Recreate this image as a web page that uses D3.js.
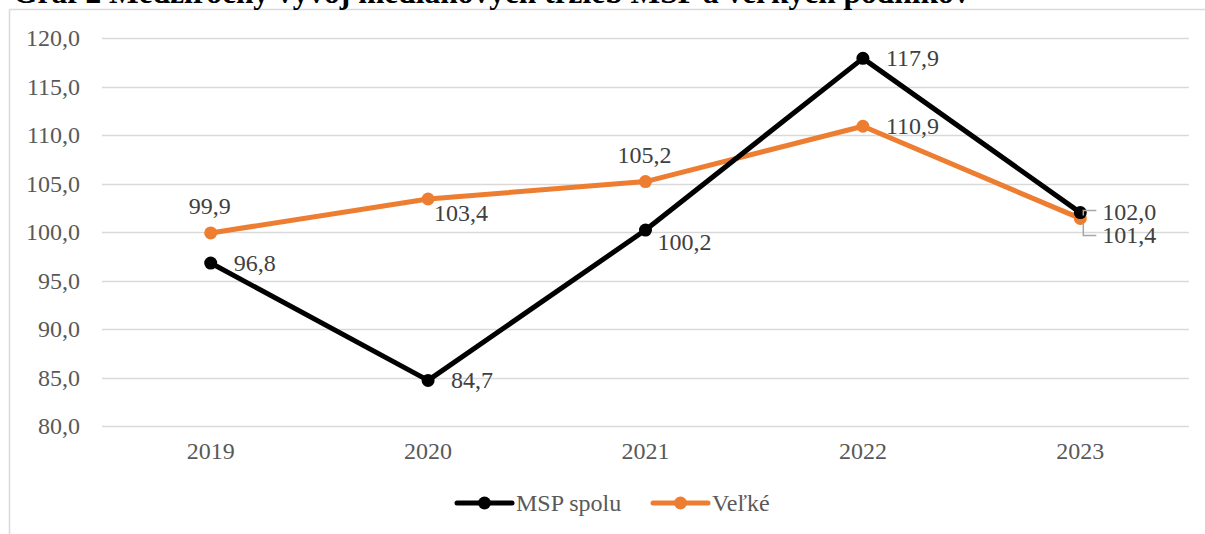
<!DOCTYPE html>
<html>
<head>
<meta charset="utf-8">
<script src="https://cdn.jsdelivr.net/npm/d3@7"></script>
<style>
  html, body { margin: 0; padding: 0; background: #fff; overflow: hidden; }
  svg text { font-family: 'Liberation Serif', 'Times New Roman', serif !important; }
</style>
</head>
<body>
<svg id="chart" width="1205" height="534"></svg>
<script>
const titleText = "Graf 2 Medziročný vývoj mediánových tržieb MSP a veľkých podnikov";
const categories = ["2019", "2020", "2021", "2022", "2023"];
const mspValues = [96.8, 84.7, 100.2, 117.9, 102.0];
const velkeValues = [99.9, 103.4, 105.2, 110.9, 101.4];
const seriesNames = ["MSP spolu", "Veľké"];
const yTicks = [80, 85, 90, 95, 100, 105, 110, 115, 120];
const mspLabelPos = ["right", "right", "right-below", "right", "leader-up"];
const velkeLabelPos = ["above", "below-right", "above", "right", "leader-down"];

const FONT = "'Liberation Serif', 'Times New Roman', serif";
const FS = 24;
const svg = d3.select("#chart");
const W = 1205, H = 534;
const margin = { left: 102, right: 16, top: 38, bottom: 108 };

// frame
svg.append("line").attr("x1", 9.5).attr("x2", W + 5).attr("y1", 9.5).attr("y2", 9.5)
  .attr("stroke", "#d9d9d9").attr("stroke-width", 1.5);
svg.append("line").attr("x1", 9.5).attr("x2", 9.5).attr("y1", 9.5).attr("y2", H + 5)
  .attr("stroke", "#d9d9d9").attr("stroke-width", 1.5);

// title (cut off at top, as in the reference)
const title = svg.append("text").attr("x", 13).attr("y", 3)
  .style("font-family", FONT)
  .attr("font-weight", "bold").attr("font-size", 26).attr("fill", "#000").text(titleText);
const tl = title.node().getComputedTextLength();
title.attr("font-size", 26 * 957 / tl);

const x = d3.scaleBand().domain(categories).range([margin.left, W - margin.right]);
const y = d3.scaleLinear().domain([80, 120]).range([H - margin.bottom, margin.top]);
const cx = d => x(d) + x.bandwidth() / 2;

// gridlines
svg.append("g").selectAll("line").data(yTicks).join("line")
  .attr("x1", margin.left).attr("x2", W - margin.right)
  .attr("y1", d => Math.round(y(d)) + 0.5).attr("y2", d => Math.round(y(d)) + 0.5)
  .attr("stroke", "#d9d9d9").attr("stroke-width", 1.5);

// y axis labels
const fmt = v => d3.format(".1f")(v).replace(".", ",");
const yAxis = d3.axisLeft(y).tickValues(yTicks).tickFormat(fmt).tickSize(0).tickPadding(22);
const gy = svg.append("g").attr("transform", `translate(${margin.left},0)`).call(yAxis);
gy.attr("font-family", null);
gy.select(".domain").remove();
gy.selectAll("text").attr("font-size", FS).attr("fill", "#595959").style("font-family", FONT);

// x axis labels
const xAxis = d3.axisBottom(x).tickSize(0).tickPadding(16);
const gx = svg.append("g").attr("transform", `translate(0,${H - margin.bottom})`).call(xAxis);
gx.attr("font-family", null);
gx.select(".domain").remove();
gx.selectAll("text").attr("font-size", FS).attr("fill", "#595959").style("font-family", FONT);

const line = d3.line().x((d, i) => cx(categories[i])).y(d => y(d));

function drawSeries(values, color) {
  svg.append("path").datum(values).attr("d", line)
    .attr("fill", "none").attr("stroke", color).attr("stroke-width", 5)
    .attr("stroke-linejoin", "round").attr("stroke-linecap", "round");
  svg.append("g").selectAll("circle").data(values).join("circle")
    .attr("cx", (d, i) => cx(categories[i])).attr("cy", d => y(d))
    .attr("r", 6.5).attr("fill", color);
}
drawSeries(velkeValues, "#ED7D31");
drawSeries(mspValues, "#000000");

// data labels
function drawLabels(values, positions) {
  values.forEach((v, i) => {
    const px = cx(categories[i]), py = y(v);
    const p = positions[i];
    let tx, ty, anchor = "start";
    if (p === "right") { tx = px + 23; ty = py + 8; }
    else if (p === "right-below") { tx = px + 12; ty = py + 20; }
    else if (p === "above") { tx = px - 1; ty = py - 19; anchor = "middle"; }
    else if (p === "below-right") { tx = px + 6; ty = py + 22; }
    else if (p === "leader-up") {
      tx = px + 22; ty = py + 7;
      svg.append("polyline")
        .attr("points", `${px + 3},${py + 3} ${px + 3},${py - 2} ${px + 16},${py - 2}`)
        .attr("fill", "none").attr("stroke", "#a6a6a6").attr("stroke-width", 1.5);
    }
    else if (p === "leader-down") {
      tx = px + 22; ty = py + 25;
      svg.append("polyline")
        .attr("points", `${px + 3},${py + 5} ${px + 3},${py + 17} ${px + 16},${py + 17}`)
        .attr("fill", "none").attr("stroke", "#a6a6a6").attr("stroke-width", 1.5);
    }
    svg.append("text").attr("x", tx).attr("y", ty).attr("text-anchor", anchor)
      .style("font-family", FONT)
      .attr("font-size", FS).attr("fill", "#404040").text(fmt(v));
  });
}
drawLabels(mspValues, mspLabelPos);
drawLabels(velkeValues, velkeLabelPos);

// legend
const legendColors = ["#000000", "#ED7D31"];
const legendX = [457, 653];
const ly = 503;
seriesNames.forEach((name, i) => {
  const lx = legendX[i];
  svg.append("line").attr("x1", lx).attr("x2", lx + 55).attr("y1", ly).attr("y2", ly)
    .attr("stroke", legendColors[i]).attr("stroke-width", 5).attr("stroke-linecap", "round");
  svg.append("circle").attr("cx", lx + 27.5).attr("cy", ly).attr("r", 6.5).attr("fill", legendColors[i]);
  svg.append("text").attr("x", lx + 59).attr("y", ly + 8)
    .style("font-family", FONT)
    .attr("font-size", FS).attr("fill", "#595959").text(name);
});
</script>
</body>
</html>
